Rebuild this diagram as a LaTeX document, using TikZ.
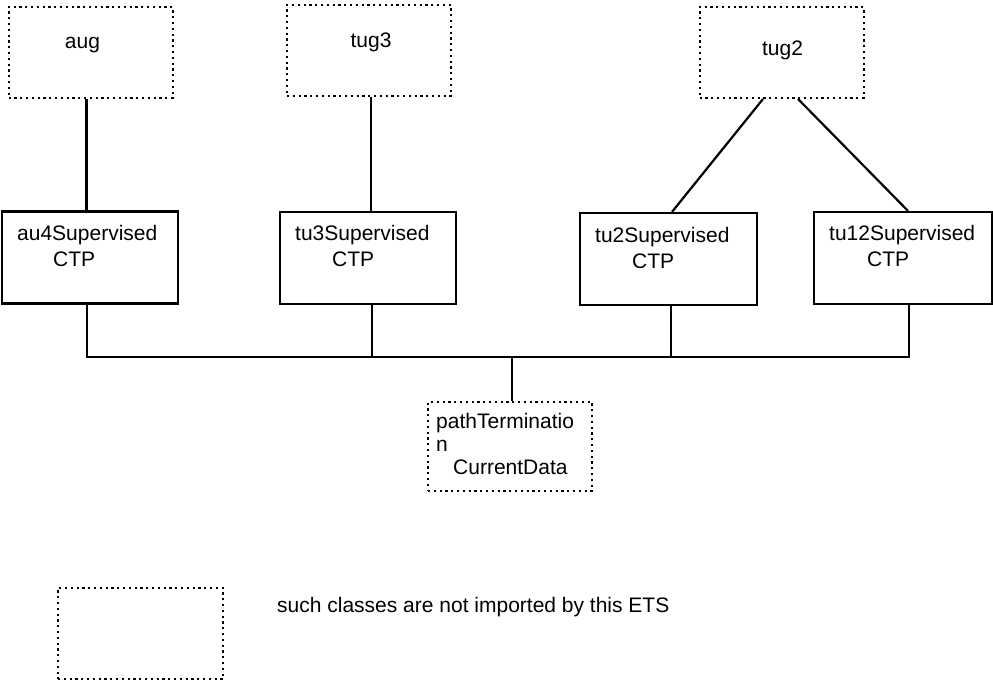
\documentclass[tikz,border=0pt]{standalone}
\usepackage{fontspec}
\setmainfont{Liberation Sans}
\usetikzlibrary{positioning}

\tikzset{
  objbox/.style={draw,line width=2.2pt,minimum width=176pt,minimum height=92pt,inner sep=0pt},
  extbox/.style={draw,line width=2pt,dash pattern=on 2.2pt off 3.6pt,minimum width=164pt,minimum height=91pt,inner sep=0pt},
  lbl/.style={inner sep=0pt,align=left,font=\fontsize{21}{26}\selectfont},
  link/.style={line width=2.2pt}
}

\begin{document}
\begin{tikzpicture}[x=1pt,y=-1pt]
  \useasboundingbox (0,0) rectangle (993,680);

% imported classes (dotted)
  \node[extbox] (aug)  at (90.5,52.5) {};
  \node[extbox] (tug3) at (369,50.5) {};
  \node[extbox] (tug2) at (781.5,52.5) {};
  \node[lbl,anchor=base] (augtxt)  at (82.5,48) {aug};
  \node[lbl,anchor=base] (tug3txt) at (371,47) {tug3};
  \node[lbl,anchor=base] (tug2txt) at (782.5,55) {tug2};

% supervised CTPs (base = last line)
  \node[objbox] (au4)  at (90,257.5) {};
  \node[objbox] (tu3)  at (368,258) {};
  \node[objbox,minimum width=177pt] (tu2)  at (668.5,259) {};
  \node[objbox,minimum width=178pt] (tu12) at (903,258) {};
  \node[lbl,anchor=base west] (au4txt)  at (17,266)  {au4Supervised\\\hspace*{36pt}CTP};
  \node[lbl,anchor=base west] (tu3txt)  at (295,266) {tu3Supervised\\\hspace*{37pt}CTP};
  \node[lbl,anchor=base west] (tu2txt)  at (595,268) {tu2Supervised\\\hspace*{37pt}CTP};
  \node[lbl,anchor=base west] (tu12txt) at (829,266) {tu12Supervised\\\hspace*{38pt}CTP};

% current data
  \node[extbox,minimum height=89pt] (ptcd) at (510,446.5) {};
  \node[lbl,anchor=base west,font=\fontsize{21}{23}\selectfont] (ptcdtxt) at (436,474)
        {pathTerminatio\\n\\\hspace*{17pt}CurrentData};

% legend
  \node[extbox,minimum width=165pt] (legend) at (140.5,633.5) {};
  \node[lbl,anchor=base west] (legendtxt) at (277,612) {such classes are not imported by this ETS};

% containment lines
  \draw[link] ([xshift=-4pt]aug.south) -- ([xshift=-4pt]aug.south |- au4.north);
  \draw[link] ([xshift=2pt]tug3.south) -- ([xshift=2pt]tug3.south |- tu3.north);
  \draw[link] ([xshift=-18.5pt]tug2.south) -- ([xshift=3.5pt]tu2.north);
  \draw[link] ([xshift=16.5pt]tug2.south) -- ([xshift=5pt]tu12.north);

% bus to current data
  \coordinate (bus) at (512,357);
  \draw[link] ([xshift=-3pt]au4.south) -- ([xshift=-3pt]au4.south |- bus)
              -- ([xshift=6pt]tu12.south |- bus) -- ([xshift=6pt]tu12.south);
  \draw[link] ([xshift=4pt]tu3.south) -- ([xshift=4pt]tu3.south |- bus);
  \draw[link] ([xshift=2.5pt]tu2.south) -- ([xshift=2.5pt]tu2.south |- bus);
  \draw[link] (bus) -- (bus |- ptcd.north);

\end{tikzpicture}
\end{document}
